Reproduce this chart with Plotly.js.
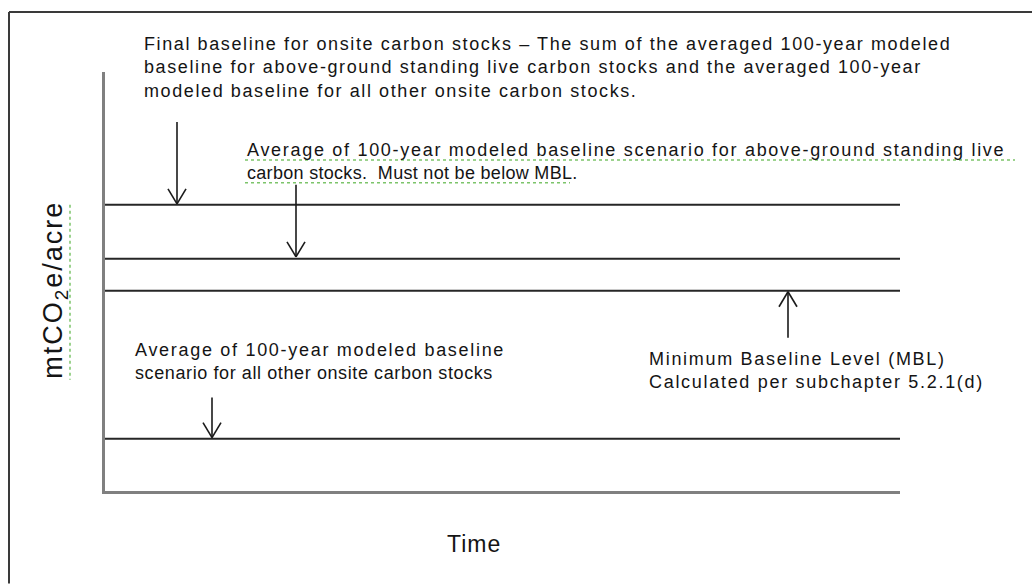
<!DOCTYPE html>
<html>
<head>
<meta charset="utf-8">
<script src="https://cdn.plot.ly/plotly-3.0.1.min.js"></script>
<style>
html,body{margin:0;padding:0;background:#fff;}
#chart{width:1032px;height:584px;}
#chart .annotation-text{letter-spacing:1.7px;}
#chart g.annotation[data-index="0"] .annotation-text{letter-spacing:1.6px;}
#chart g.annotation[data-index="1"] tspan.line:nth-of-type(2){letter-spacing:0.3px;}
#chart g.annotation[data-index="2"] tspan.line:nth-of-type(2){letter-spacing:0.6px;}
#chart g.annotation[data-index="4"] .annotation-text{letter-spacing:1px;}
#chart g.annotation[data-index="5"] .annotation-text{letter-spacing:2px;}
</style>
</head>
<body>
<div id="chart"></div>
<script>
// ---- data ----
const timeRange = [0, 100];
const seriesNames = [
  "Final baseline for onsite carbon stocks",
  "Average above-ground standing live carbon stocks",
  "Minimum Baseline Level (MBL)",
  "Average all other onsite carbon stocks"
];
const seriesLevels = [68.3, 55.4, 47.8, 12.5];
const xTitle = "Time";
const yTitle = "mtCO<sub>2</sub>e/acre";
const labelFinal = "Final baseline for onsite carbon stocks \u2013 The sum of the averaged 100-year modeled<br>baseline for above-ground standing live carbon stocks and the averaged 100-year<br>modeled baseline for all other onsite carbon stocks.";
const labelAbove = "Average of 100-year modeled baseline scenario for above-ground standing live<br>carbon stocks.  Must not be below MBL.";
const labelOther = "Average of 100-year modeled baseline<br>scenario for all other onsite carbon stocks";
const labelMBL = "Minimum Baseline Level (MBL)<br>Calculated per subchapter 5.2.1(d)";

// ---- layout geometry ----
const W = 1032, H = 584;
const M = {l: 105, r: 132, t: 72, b: 92.5};
const plotW = W - M.l - M.r, plotH = H - M.t - M.b;
const px = (x) => (x - M.l) / plotW;
const py = (y) => (H - M.b - y) / plotH;

const FONT = "Liberation Sans, Arial, sans-serif";
const TXT = "#141414";

const traces = seriesNames.map((name, i) => ({
  type: "scatter", mode: "lines", name: name,
  x: timeRange, y: [seriesLevels[i], seriesLevels[i]],
  line: {color: "#262626", width: 2},
  hoverinfo: "skip", showlegend: false, cliponaxis: false
}));

function seg(x0, y0, x1, y1, color, width, dash) {
  return {type: "line", xref: "paper", yref: "paper",
    x0: px(x0), y0: py(y0), x1: px(x1), y1: py(y1),
    line: {color: color, width: width, dash: dash || "solid"}, layer: "above"};
}
function arrow(x, yFrom, yTip) {
  const dir = yTip > yFrom ? 1 : -1;
  const hl = 15, hw = 9;
  return [
    seg(x, yFrom, x, yTip, "#1a1a1a", 1.6),
    seg(x - hw, yTip - dir * hl, x, yTip, "#1a1a1a", 1.6),
    seg(x + hw, yTip - dir * hl, x, yTip, "#1a1a1a", 1.6)
  ];
}
const shapes = [].concat(
  [seg(9, 12, W, 12, "#3a3a3a", 2), seg(9, 12, 9, H, "#3a3a3a", 2)],
  arrow(177, 122, 204),
  arrow(296, 185, 257),
  arrow(788, 338, 292),
  arrow(212, 398, 438),
  [seg(245, 160, 1015, 160, "#7cc46a", 1.5, "dot"),
   seg(245, 183, 570, 183, "#7cc46a", 1.5, "dot"),
   seg(70, 205, 70, 380, "#7cc46a", 1.5, "dot")]
);

function note(text, x, y, size, xa, ya, angle) {
  return {text: text, xref: "paper", yref: "paper", x: px(x), y: py(y),
    xanchor: xa || "left", yanchor: ya || "top", align: "left", showarrow: false,
    textangle: angle || 0,
    font: {family: FONT, size: size || 18, color: TXT}};
}

const layout = {
  width: W, height: H, margin: M,
  paper_bgcolor: "#ffffff", plot_bgcolor: "#ffffff",
  showlegend: false,
  xaxis: {range: timeRange, showline: true, linecolor: "#808080", linewidth: 3,
    showticklabels: false, ticks: "", showgrid: false, zeroline: false, fixedrange: true},
  yaxis: {range: [0, 100], showline: true, linecolor: "#808080", linewidth: 3,
    showticklabels: false, ticks: "", showgrid: false, zeroline: false, fixedrange: true},
  shapes: shapes,
  annotations: [
    note(labelFinal, 142, 32),
    note(labelAbove, 245, 138),
    note(labelOther, 133, 338),
    note(labelMBL, 647, 347),
    note(xTitle, 472, 530, 23, "center"),
    note(yTitle, 55, 301, 27, "center", "middle", -90)
  ]
};

Plotly.newPlot("chart", traces, layout, {displayModeBar: false, staticPlot: true});
</script>
</body>
</html>
